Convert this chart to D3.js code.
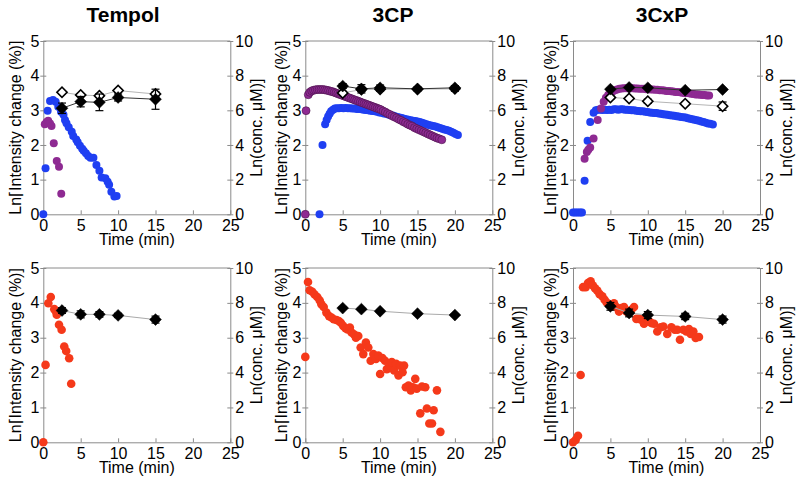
<!DOCTYPE html>
<html><head><meta charset="utf-8">
<script src="https://cdn.jsdelivr.net/npm/d3@7"></script>
<style>body{margin:0;background:#fff}</style>
</head><body><svg id="c" width="800" height="488"></svg>
<script>
// ---------- DATA ----------
const titles = ["Tempol", "3CP", "3CxP"];
const xTicks = [0, 5, 10, 15, 20, 25];
const yLeftTicks = [0, 1, 2, 3, 4, 5];
const yRightTicks = [0, 2, 4, 6, 8, 10];
const xLabel = "Time (min)";
const yLeftLabel = "Ln\u2308Intensity change (%)]";
const yRightLabel = "Ln(conc. \u03bcM)]";

// Top row: blue / purple series  [time, Ln intensity change]
const tempolBlue = [[0,0],[0.3,1.33],[0.58,2.99],[0.9,3.27],[1.3,3.3],[1.65,3.25],[2.0,3.1],[2.37,2.96],[2.7,2.87],[2.9,2.72],[3.1,2.63],[3.4,2.51],[3.8,2.38],[4.0,2.26],[4.4,2.16],[4.6,2.08],[4.9,1.98],[5.2,1.89],[5.4,1.83],[5.7,1.76],[6.0,1.68],[6.3,1.63],[6.7,1.63],[7.1,1.42],[7.5,1.26],[7.8,1.06],[8.3,1.04],[8.6,0.94],[8.8,0.85],[9.1,0.65],[9.5,0.51],[9.8,0.53]];
const tempolPurple = [[0.2,2.6],[0.45,2.66],[0.65,2.7],[0.9,2.62],[1.1,2.55],[1.4,2.05],[1.8,1.54],[2.1,1.37],[2.4,0.59]];

const cpBlue = [[1.9,0],[2.3,2.0],[2.65,2.6],[2.85,2.72],[3.05,2.82],[3.25,2.9],[3.45,2.97],[3.7,3.02],[3.95,3.05],[4.2,3.06],[4.5,3.06],[4.8,3.07],[5.1,3.06],[5.4,3.07],[5.7,3.06],[6.0,3.06],[6.3,3.05],[6.6,3.05],[6.9,3.04],[7.2,3.04],[7.5,3.03],[7.8,3.02],[8.1,3.01],[8.4,3.0],[8.7,2.99],[9.0,2.98],[9.3,2.97],[9.6,2.96],[9.9,2.94],[10.2,2.93],[10.5,2.91],[10.8,2.9],[11.1,2.88],[11.4,2.86],[11.7,2.85],[12.0,2.83],[12.3,2.81],[12.6,2.79],[12.9,2.78],[13.2,2.76],[13.5,2.74],[13.8,2.73],[14.1,2.71],[14.4,2.7],[14.7,2.69],[15.0,2.68],[15.3,2.66],[15.6,2.64],[15.9,2.62],[16.2,2.6],[16.5,2.58],[16.8,2.56],[17.1,2.55],[17.4,2.53],[17.7,2.51],[18.0,2.49],[18.3,2.47],[18.6,2.45],[18.9,2.43],[19.2,2.41],[19.5,2.38],[19.8,2.35],[20.1,2.32],[20.4,2.29]];
const cpPurple = [[0,0],[0.1,2.99],[0.4,3.45],[0.6,3.52],[0.85,3.56],[1.1,3.58],[1.35,3.59],[1.6,3.6],[1.85,3.6],[2.1,3.6],[2.35,3.6],[2.6,3.59],[2.85,3.58],[3.1,3.57],[3.35,3.55],[3.6,3.54],[3.85,3.52],[4.1,3.5],[4.35,3.48],[4.6,3.46],[4.85,3.44],[5.1,3.42],[5.35,3.4],[5.6,3.38],[5.85,3.36],[6.1,3.34],[6.35,3.32],[6.6,3.3],[6.85,3.28],[7.1,3.26],[7.35,3.24],[7.6,3.22],[7.85,3.2],[8.1,3.18],[8.35,3.16],[8.6,3.14],[8.85,3.12],[9.1,3.1],[9.35,3.08],[9.6,3.06],[9.85,3.04],[10.1,3.02],[10.4,2.98],[10.7,2.95],[11.0,2.91],[11.3,2.88],[11.6,2.84],[11.9,2.81],[12.2,2.78],[12.5,2.74],[12.8,2.71],[13.1,2.67],[13.4,2.64],[13.7,2.6],[14.0,2.57],[14.3,2.54],[14.6,2.5],[14.9,2.47],[15.2,2.44],[15.5,2.41],[15.8,2.38],[16.1,2.35],[16.4,2.32],[16.7,2.29],[17.0,2.26],[17.3,2.23],[17.6,2.2],[17.9,2.18],[18.25,2.15]];

const cxpBlue = [[0,0.05],[0.25,0.05],[0.5,0.05],[0.75,0.05],[1.0,0.05],[1.2,0.05],[1.55,0.97],[1.95,2.12],[2.3,2.66],[2.75,2.93],[3.05,3.0],[3.35,3.02],[3.65,3.02],[3.95,3.01],[4.25,3.02],[4.55,3.01],[4.85,3.02],[5.15,3.01],[5.45,3.03],[5.75,3.03],[6.05,3.02],[6.35,3.03],[6.65,3.03],[6.95,3.02],[7.25,3.02],[7.55,3.01],[7.85,3.0],[8.15,3.0],[8.45,2.99],[8.75,2.98],[9.05,2.97],[9.35,2.97],[9.65,2.96],[9.95,2.95],[10.25,2.94],[10.55,2.93],[10.85,2.92],[11.15,2.92],[11.45,2.91],[11.75,2.9],[12.05,2.89],[12.35,2.88],[12.65,2.87],[12.95,2.86],[13.25,2.85],[13.55,2.84],[13.85,2.83],[14.15,2.82],[14.45,2.81],[14.75,2.8],[15.05,2.79],[15.35,2.77],[15.65,2.76],[15.95,2.74],[16.25,2.73],[16.55,2.71],[16.85,2.7],[17.15,2.68],[17.45,2.66],[17.75,2.64],[18.05,2.62],[18.35,2.61],[18.7,2.59]];
const cxpPurple = [[1.55,1.6],[1.85,1.8],[2.05,1.86],[2.3,1.93],[2.75,2.19],[3.3,2.72],[3.75,3.05],[4.1,3.25],[4.4,3.36],[4.7,3.44],[5.0,3.5],[5.3,3.54],[5.6,3.58],[5.9,3.6],[6.2,3.62],[6.5,3.63],[6.8,3.64],[7.1,3.64],[7.4,3.64],[7.7,3.64],[8.0,3.64],[8.3,3.63],[8.6,3.63],[8.9,3.62],[9.2,3.62],[9.5,3.62],[9.8,3.61],[10.1,3.61],[10.4,3.6],[10.7,3.6],[11.0,3.59],[11.3,3.59],[11.6,3.58],[11.9,3.58],[12.2,3.57],[12.5,3.56],[12.8,3.56],[13.1,3.55],[13.4,3.54],[13.7,3.53],[14.0,3.53],[14.3,3.52],[14.6,3.51],[14.9,3.5],[15.2,3.5],[15.5,3.49],[15.8,3.48],[16.1,3.47],[16.4,3.46],[16.7,3.46],[17.0,3.45],[17.3,3.44],[17.6,3.44],[17.9,3.43],[18.2,3.43]];

// Bottom row: red series
const tempolRed = [[0,0],[0.3,2.22],[0.67,3.99],[1.0,4.17],[1.47,3.82],[1.8,3.66],[1.7,3.75],[2.1,3.37],[2.45,3.23],[2.8,2.75],[3.06,2.62],[3.46,2.41],[3.73,1.68]];
const cpRed = [[0,2.45],[0.36,4.6],[0.58,4.36],[0.94,4.32],[1.25,4.24],[1.6,4.17],[1.93,4.07],[2.15,3.96],[2.46,3.88],[2.82,3.72],[3.18,3.62],[3.5,3.58],[3.8,3.53],[4.17,3.51],[4.48,3.48],[4.75,3.43],[5.06,3.34],[5.38,3.27],[5.65,3.24],[5.96,3.29],[6.18,3.15],[6.5,3.1],[6.77,3.0],[7.08,3.05],[7.4,2.72],[7.75,2.53],[8.1,2.86],[8.42,2.72],[8.74,2.34],[9.1,2.53],[9.45,2.39],[9.77,2.49],[10.0,1.96],[10.3,2.42],[10.66,2.34],[10.9,2.1],[11.2,2.15],[11.56,2.3],[11.87,2.06],[12.14,2.25],[12.46,1.92],[12.68,2.2],[13.0,2.01],[13.2,2.2],[13.44,1.58],[13.8,1.63],[14.1,1.49],[14.38,1.58],[14.7,1.82],[14.9,1.54],[15.37,0.83],[15.6,1.6],[16.04,1.58],[16.26,0.97],[16.58,0.54],[16.94,0.54],[17.16,0.92],[17.6,1.49],[18.06,0.3]];
const cxpRed = [[0,0],[0.36,0.07],[0.67,0.19],[1.02,1.93],[1.34,4.45],[1.7,4.45],[2.0,4.57],[2.36,4.62],[2.67,4.5],[2.94,4.42],[3.25,4.35],[3.56,4.25],[3.92,4.19],[4.23,4.09],[4.5,4.01],[4.81,3.95],[5.12,3.9],[5.48,3.99],[5.79,3.88],[6.15,3.75],[6.46,3.85],[6.82,3.88],[7.13,3.75],[7.49,3.71],[7.8,3.8],[8.16,3.88],[8.47,3.54],[8.82,3.54],[9.14,3.52],[9.49,3.4],[9.8,3.56],[10.16,3.47],[10.47,3.42],[10.83,3.4],[11.27,3.18],[11.72,3.3],[12.08,3.32],[12.6,3.11],[13.15,3.3],[13.6,3.23],[13.95,3.23],[14.3,2.94],[14.75,3.23],[15.15,3.18],[15.5,3.25],[15.73,3.11],[16.09,3.18],[16.4,2.99],[16.84,3.02]];

// Diamonds (right axis, Ln conc.)
const tempolTimes = [2.5, 5, 7.5, 10, 15];
const tempolFilledTop = [6.12, 6.5, 6.46, 6.74, 6.64];
const tempolFilledTopErr = [0.3, 0.3, 0.48, 0.2, 0.58];
const tempolOpenTop = [7.04, 6.88, 6.84, 7.14, 6.94];
const tempolOpenTopErr = [0.08, 0.08, 0.1, 0.1, 0.12];
const cpTimes = [5, 7.5, 10, 15, 20];
const cpFilledTop = [7.4, 7.24, 7.3, 7.24, 7.3];
const cpFilledTopErr = [0.14, 0.24, 0.16, 0.1, 0.12];
const cpOpenTop = [7.0, 7.2, 7.22, 7.22, 7.24];
const cpOpenTopErr = [0.1, 0.12, 0.12, 0.1, 0.14];
const cxpTimes = [5, 7.5, 10, 15, 20];
const cxpFilledTop = [7.22, 7.32, 7.3, 7.16, 7.2];
const cxpFilledTopErr = [0.06, 0.06, 0.06, 0.06, 0.06];
const cxpOpenTop = [6.74, 6.68, 6.52, 6.38, 6.24];
const cxpOpenTopErr = [0.1, 0.1, 0.12, 0.08, 0.24];
const tempolBottom = [7.56, 7.34, 7.34, 7.28, 7.04];
const tempolBottomErr = [0.16, 0.2, 0.16, 0.12, 0.2];
const cpBottom = [7.7, 7.64, 7.52, 7.38, 7.3];
const cpBottomErr = [0.06, 0.06, 0.06, 0.06, 0.06];
const cxpBottom = [7.8, 7.42, 7.3, 7.22, 7.04];
const cxpBottomErr = [0.22, 0.22, 0.2, 0.18, 0.2];

// ---------- STYLE / LAYOUT ----------
const BLUE = "#1f3ff2", PURPLE = "#8e2a92", RED = "#f5391a";
const AX = "#8a8a8a";
const FONT = "'Liberation Sans', Arial, sans-serif";
const colLeft = [43.3, 305.3, 573];
const plotW = 187;
const rowTop = [41, 268], rowBottom = [214.3, 442.3];
const titleX = [123, 393, 662];
const leftLabOff = [22, 18, 17];
const fmt = d3.format("d");

const zip = (t, v, e) => t.map((x, i) => ({x, y: v[i], e: e[i]}));
const panels = [
  {c:0,r:0, dots:[{d:tempolBlue,col:BLUE},{d:tempolPurple,col:PURPLE}],
   dia:[{d:zip(tempolTimes,tempolOpenTop,tempolOpenTopErr),filled:false,line:"#b5b5b5"},
        {d:zip(tempolTimes,tempolFilledTop,tempolFilledTopErr),filled:true,line:"#333"}]},
  {c:1,r:0, dots:[{d:cpBlue,col:BLUE},{d:cpPurple,col:PURPLE,stroke:"#4a124a"}],
   dia:[{d:zip(cpTimes,cpOpenTop,cpOpenTopErr),filled:false,line:"#b5b5b5"},
        {d:zip(cpTimes,cpFilledTop,cpFilledTopErr),filled:true,line:"#333"}]},
  {c:2,r:0, dots:[{d:cxpBlue,col:BLUE},{d:cxpPurple,col:PURPLE}],
   dia:[{d:zip(cxpTimes,cxpOpenTop,cxpOpenTopErr),filled:false,line:"#b5b5b5"},
        {d:zip(cxpTimes,cxpFilledTop,cxpFilledTopErr),filled:true,line:"#333"}]},
  {c:0,r:1, dots:[{d:tempolRed,col:RED}],
   dia:[{d:zip(tempolTimes,tempolBottom,tempolBottomErr),filled:true,line:"#aaa"}]},
  {c:1,r:1, dots:[{d:cpRed,col:RED}],
   dia:[{d:zip(cpTimes,cpBottom,cpBottomErr),filled:true,line:"#aaa"}]},
  {c:2,r:1, dots:[{d:cxpRed,col:RED}],
   dia:[{d:zip(cxpTimes,cxpBottom,cxpBottomErr),filled:true,line:"#aaa"}]},
];

const svg = d3.select("#c");
svg.append("rect").attr("width",800).attr("height",488).attr("fill","#fff");

titles.forEach((t,i) => svg.append("text").attr("x",titleX[i]).attr("y",22)
  .attr("text-anchor","middle").attr("font-family",FONT).attr("font-weight","bold")
  .attr("font-size",21).text(t));

panels.forEach(p => {
  const L = colLeft[p.c], R = L + plotW, T = rowTop[p.r], B = rowBottom[p.r];
  const x = d3.scaleLinear().domain([0,25]).range([L,R]);
  const yL = d3.scaleLinear().domain([0,5]).range([B,T]);
  const yR = d3.scaleLinear().domain([0,10]).range([B,T]);
  const g = svg.append("g");

  // frame top
  g.append("line").attr("x1",L).attr("x2",R).attr("y1",T).attr("y2",T).attr("stroke",AX).attr("stroke-width",1);

  const style = sel => {
    sel.selectAll("path.domain").attr("stroke",AX).attr("stroke-width",1);
    sel.selectAll(".tick line").attr("stroke",AX);
    sel.selectAll(".tick text").attr("font-family",FONT).attr("font-size",16).attr("fill","#000");
  };
  const ax = g.append("g").attr("transform",`translate(0,${B})`)
    .call(d3.axisBottom(x).tickValues(xTicks).tickFormat(fmt).tickSizeInner(-4).tickSizeOuter(0).tickPadding(5));
  style(ax);
  const al = g.append("g").attr("transform",`translate(${L},0)`)
    .call(d3.axisLeft(yL).tickValues(yLeftTicks).tickFormat(fmt).tickSizeInner(3).tickSizeOuter(0).tickPadding(1));
  style(al); al.selectAll(".tick line").attr("x1",3).attr("x2",-3);
  const ar = g.append("g").attr("transform",`translate(${R},0)`)
    .call(d3.axisRight(yR).tickValues(yRightTicks).tickFormat(fmt).tickSizeInner(3).tickSizeOuter(0).tickPadding(2));
  style(ar); ar.selectAll(".tick line").attr("x1",-3).attr("x2",3);

  // labels
  g.append("text").attr("x",(L+R)/2).attr("y",B+31).attr("text-anchor","middle")
    .attr("font-family",FONT).attr("font-size",16).text(xLabel);
  const cy = (T+B)/2;
  g.append("text").attr("transform",`translate(${L-leftLabOff[p.c]},${cy}) rotate(-90)`)
    .attr("text-anchor","middle").attr("font-family",FONT).attr("font-size",16).text(yLeftLabel);
  g.append("text").attr("transform",`translate(${R+32},${cy}) rotate(-90)`)
    .attr("text-anchor","middle").attr("font-family",FONT).attr("font-size",16).text(yRightLabel);

  // dots
  p.dots.forEach(s => {
    g.append("g").selectAll("circle").data(s.d).join("circle")
      .attr("cx",d=>x(d[0])).attr("cy",d=>yL(d[1]))
      .attr("r", p.r===1 ? 4.3 : 4)
      .attr("fill",s.col)
      .attr("stroke",s.stroke||"none").attr("stroke-width",s.stroke?0.6:0);
  });

  // diamonds with lines & error bars
  p.dia.forEach(s => {
    const line = d3.line().x(d=>x(d.x)).y(d=>yR(d.y));
    g.append("path").attr("d",line(s.d)).attr("fill","none").attr("stroke",s.line).attr("stroke-width",1);
  });
  p.dia.forEach(s => {
    const eg = g.append("g").attr("stroke","#000").attr("stroke-width",1.2);
    s.d.forEach(d => {
      const xx = x(d.x), y1 = yR(d.y - d.e), y2 = yR(d.y + d.e);
      eg.append("line").attr("x1",xx).attr("x2",xx).attr("y1",y1).attr("y2",y2);
      eg.append("line").attr("x1",xx-4).attr("x2",xx+4).attr("y1",y1).attr("y2",y1);
      eg.append("line").attr("x1",xx-4).attr("x2",xx+4).attr("y1",y2).attr("y2",y2);
    });
    g.append("g").selectAll("path").data(s.d).join("path")
      .attr("d", d3.symbol(d3.symbolSquare, s.filled ? 70 : 52))
      .attr("transform", d => `translate(${x(d.x)},${yR(d.y)}) rotate(45)`)
      .attr("fill", s.filled ? "#000" : "#fff")
      .attr("stroke","#000").attr("stroke-width", s.filled ? 0.5 : 1.6);
  });
});
</script></body></html>
